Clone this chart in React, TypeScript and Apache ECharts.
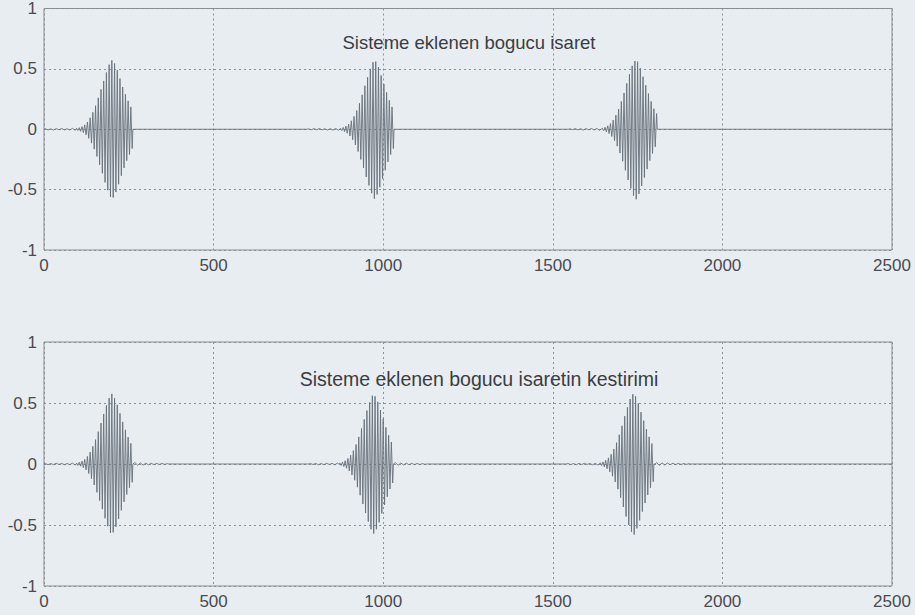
import { useEffect, useRef } from "react";
import * as echarts from "echarts";

// Axis ticks shared by both panels
const X_TICKS = [0, 500, 1000, 1500, 2000, 2500];
const Y_TICKS = [-1, -0.5, 0, 0.5, 1];

// Spacing (in samples) between successive peaks of a burst, and between noise samples
const PEAK_STEP = 4;
const NOISE_STEP = 8;

const TITLE_TOP = "Sisteme eklenen bogucu isaret";
const TITLE_BOTTOM = "Sisteme eklenen bogucu isaretin kestirimi";

// ---- Upper panel: added damping signal ----
const topLeadStarts = [4, 780, 1550];
const topLead1 = [0.004, -0.005, 0.003, -0.006, 0.005, -0.004, 0.006, -0.005, 0.004, -0.006, 0.007, -0.008];
const topLead2 = [0.003, -0.004, 0.005, -0.004, 0.006, -0.005, 0.004, -0.006, 0.005, -0.007, 0.006, -0.008];
const topLead3 = [0.004, -0.003, 0.005, -0.005, 0.004, -0.006, 0.005, -0.004, 0.006, -0.006, 0.007, -0.009];

const topBurstStarts = [96, 874, 1646];
const topBurst1 = [
  0.008, -0.01, 0.013, -0.017, 0.022, -0.028, 0.036, -0.046, 0.06, -0.075,
  0.095, -0.115, 0.14, -0.165, 0.195, -0.225, 0.26, -0.295, 0.33, -0.365,
  0.4, -0.44, 0.47, -0.505, 0.535, -0.56, 0.57, -0.565, 0.545, -0.52,
  0.49, -0.455, 0.42, -0.385, 0.35, -0.32, 0.29, -0.26, 0.235, -0.21,
  0.185, -0.16,
];
const topBurst2 = [
  0.008, -0.011, 0.015, -0.02, 0.026, -0.033, 0.043, -0.055, 0.07, -0.087,
  0.107, -0.13, 0.155, -0.185, 0.215, -0.25, 0.285, -0.32, 0.36, -0.395,
  0.43, -0.465, 0.5, -0.53, 0.555, -0.575, 0.56, -0.54, 0.515, -0.48,
  0.445, -0.41, 0.375, -0.34, 0.305, -0.27, 0.24, -0.21, 0.185, -0.16,
];
const topBurst3 = [
  0.009, -0.012, 0.016, -0.021, 0.028, -0.036, 0.047, -0.06, 0.076, -0.095,
  0.117, -0.14, 0.167, -0.197, 0.23, -0.265, 0.3, -0.34, 0.38, -0.42,
  0.455, -0.49, 0.525, -0.55, 0.565, -0.58, 0.56, -0.535, 0.505, -0.47,
  0.435, -0.4, 0.365, -0.33, 0.295, -0.26, 0.23, -0.2, 0.17, -0.145,
  0.13,
];

// ---- Lower panel: estimate of the damping signal ----
const botLeadStarts = [4, 785, 1545];
const botLead1 = [0.003, -0.005, 0.004, -0.005, 0.006, -0.004, 0.005, -0.006, 0.004, -0.005, 0.007, -0.008];
const botLead2 = [0.004, -0.004, 0.005, -0.006, 0.004, -0.005, 0.006, -0.004, 0.005, -0.006, 0.007];
const botLead3 = [0.004, -0.005, 0.004, -0.006, 0.005, -0.005, 0.006, -0.004, 0.005, -0.007, 0.006, -0.008];

const botBurstStarts = [96, 872, 1640];
const botBurst1 = [
  0.007, -0.011, 0.014, -0.018, 0.023, -0.03, 0.038, -0.048, 0.062, -0.078,
  0.098, -0.12, 0.145, -0.172, 0.2, -0.232, 0.265, -0.3, 0.335, -0.37,
  0.41, -0.445, 0.48, -0.51, 0.54, -0.565, 0.575, -0.56, 0.54, -0.515,
  0.485, -0.45, 0.415, -0.38, 0.345, -0.31, 0.28, -0.25, 0.22, -0.195,
  0.17, -0.15,
];
const botBurst2 = [
  0.009, -0.012, 0.016, -0.021, 0.027, -0.035, 0.045, -0.057, 0.072, -0.09,
  0.11, -0.133, 0.16, -0.19, 0.222, -0.256, 0.292, -0.328, 0.366, -0.402,
  0.438, -0.472, 0.505, -0.535, 0.56, -0.57, 0.555, -0.535, 0.51, -0.478,
  0.442, -0.405, 0.37, -0.335, 0.3, -0.268, 0.235, -0.205, 0.18, -0.155,
];
const botBurst3 = [
  0.01, -0.013, 0.017, -0.023, 0.03, -0.039, 0.05, -0.064, 0.08, -0.1,
  0.122, -0.147, 0.175, -0.206, 0.24, -0.276, 0.313, -0.352, 0.392, -0.43,
  0.465, -0.5, 0.532, -0.556, 0.572, -0.578, 0.555, -0.528, 0.497, -0.462,
  0.425, -0.39, 0.355, -0.32, 0.286, -0.254, 0.222, -0.195, 0.168, -0.145,
];

const botTrailStarts = [268, 1036, 1806];
const botTrail1 = [0.012, -0.01, 0.009, -0.009, 0.007, -0.007, 0.006, -0.005, 0.005, -0.004, 0.004, -0.003, 0.003];
const botTrail2 = [0.011, -0.01, 0.008, -0.008, 0.007, -0.006, 0.006, -0.005, 0.004, -0.004, 0.003, -0.003];
const botTrail3 = [0.012, -0.011, 0.009, -0.008, 0.008, -0.006, 0.006, -0.005, 0.005, -0.004, 0.004, -0.003, 0.003];

type Piece = { start: number; step: number; values: number[] };

// Stitch the pieces onto a flat zero baseline running across 0..2500
function buildSignal(pieces: Piece[]): number[][] {
  const sorted = [...pieces].sort((a, b) => a.start - b.start);
  const pts: number[][] = [[0, 0]];
  for (const p of sorted) {
    pts.push([Math.max(0, p.start - p.step / 2), 0]);
    p.values.forEach((v, i) => pts.push([p.start + i * p.step, v]));
    pts.push([p.start + (p.values.length - 1) * p.step + p.step / 2, 0]);
  }
  pts.push([2500, 0]);
  return pts;
}

const topPieces: Piece[] = [
  { start: topLeadStarts[0], step: NOISE_STEP, values: topLead1 },
  { start: topLeadStarts[1], step: NOISE_STEP, values: topLead2 },
  { start: topLeadStarts[2], step: NOISE_STEP, values: topLead3 },
  { start: topBurstStarts[0], step: PEAK_STEP, values: topBurst1 },
  { start: topBurstStarts[1], step: PEAK_STEP, values: topBurst2 },
  { start: topBurstStarts[2], step: PEAK_STEP, values: topBurst3 },
];

const botPieces: Piece[] = [
  { start: botLeadStarts[0], step: NOISE_STEP, values: botLead1 },
  { start: botLeadStarts[1], step: NOISE_STEP, values: botLead2 },
  { start: botLeadStarts[2], step: NOISE_STEP, values: botLead3 },
  { start: botBurstStarts[0], step: PEAK_STEP, values: botBurst1 },
  { start: botBurstStarts[1], step: PEAK_STEP, values: botBurst2 },
  { start: botBurstStarts[2], step: PEAK_STEP, values: botBurst3 },
  { start: botTrailStarts[0], step: NOISE_STEP, values: botTrail1 },
  { start: botTrailStarts[1], step: NOISE_STEP, values: botTrail2 },
  { start: botTrailStarts[2], step: NOISE_STEP, values: botTrail3 },
];

const FONT = "'Liberation Sans', Arial, Helvetica, sans-serif";
const PAPER = "#e8edf1";
const INK = "#484b50";
const GRID_LINE = "#8d9297";
const SIGNAL = "#67707a";

function xAxisFor(gridIndex: number) {
  return {
    type: "value" as const,
    gridIndex,
    min: X_TICKS[0],
    max: X_TICKS[X_TICKS.length - 1],
    interval: 500,
    axisLine: { show: false },
    axisTick: { show: false },
    axisLabel: {
      color: INK,
      fontSize: 17,
      fontFamily: FONT,
      margin: 7,
      formatter: (v: number) => String(v),
    },
    splitLine: { show: true, lineStyle: { color: GRID_LINE, width: 1, type: [2, 3] } },
  };
}

function yAxisFor(gridIndex: number) {
  return {
    type: "value" as const,
    gridIndex,
    min: Y_TICKS[0],
    max: Y_TICKS[Y_TICKS.length - 1],
    interval: 0.5,
    axisLine: { show: false },
    axisTick: { show: false },
    axisLabel: {
      color: INK,
      fontSize: 17,
      fontFamily: FONT,
      margin: 7,
      formatter: (v: number) => String(v),
    },
    splitLine: { show: true, lineStyle: { color: GRID_LINE, width: 1, type: [2, 3] } },
  };
}

export default function App() {
  const ref = useRef<HTMLDivElement>(null);

  useEffect(() => {
    if (!ref.current) return;
    const chart = echarts.init(ref.current, undefined, { renderer: "svg" });
    const gridBase = {
      show: true,
      borderColor: "#868b90",
      borderWidth: 1,
      backgroundColor: "transparent",
      left: 44,
      right: 23,
      containLabel: false,
    };
    chart.setOption({
      animation: false,
      backgroundColor: PAPER,
      grid: [
        { ...gridBase, top: 8, height: 242 },
        { ...gridBase, top: 342, height: 244 },
      ],
      xAxis: [xAxisFor(0), xAxisFor(1)],
      yAxis: [yAxisFor(0), yAxisFor(1)],
      series: [
        {
          type: "line",
          xAxisIndex: 0,
          yAxisIndex: 0,
          data: buildSignal(topPieces),
          showSymbol: false,
          lineStyle: { color: SIGNAL, width: 0.9 },
          z: 3,
        },
        {
          type: "line",
          xAxisIndex: 1,
          yAxisIndex: 1,
          data: buildSignal(botPieces),
          showSymbol: false,
          lineStyle: { color: SIGNAL, width: 0.9 },
          z: 3,
        },
      ],
      graphic: [
        {
          type: "text",
          x: 469,
          y: 42,
          z: 10,
          style: {
            text: TITLE_TOP,
            align: "center",
            verticalAlign: "middle",
            fill: "#3a3d42",
            fontSize: 18.5,
            fontFamily: FONT,
          },
        },
        {
          type: "text",
          x: 479,
          y: 379,
          z: 10,
          style: {
            text: TITLE_BOTTOM,
            align: "center",
            verticalAlign: "middle",
            fill: "#3a3d42",
            fontSize: 19.5,
            fontFamily: FONT,
          },
        },
      ],
    });
    return () => chart.dispose();
  }, []);

  return (
    <div
      ref={ref}
      style={{ position: "fixed", left: 0, top: 0, width: 915, height: 615, background: PAPER }}
    />
  );
}
